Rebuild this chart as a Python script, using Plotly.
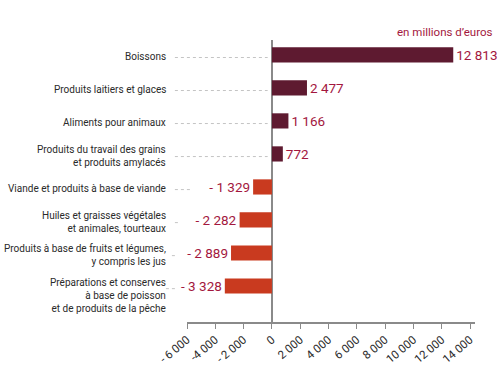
import plotly.graph_objects as go

categories = [
    "Boissons",
    "Produits laitiers et glaces",
    "Aliments pour animaux",
    "Produits du travail des grains<br>et produits amylacés",
    "Viande et produits à base de viande",
    "Huiles et graisses végétales<br>et animales, tourteaux",
    "Produits à base de fruits et légumes,<br>y compris les jus",
    "Préparations et conserves<br>à base de poisson<br>et de produits de la pêche",
]
values = [12813, 2477, 1166, 772, -1329, -2282, -2889, -3328]
tick_vals = [-6000, -4000, -2000, 0, 2000, 4000, 6000, 8000, 10000, 12000, 14000]
tick_text = ["- 6 000", "-4 000", "- 2 000", "0", "2 000", "4 000", "6 000",
             "8 000", "10 000", "12 000", "14 000"]
unit_label = "en millions d’euros"

POS_COLOR = "#5e1a30"
NEG_COLOR = "#c93a1f"
TXT_COLOR = "#a3173e"
FONT = "Roboto, Liberation Sans, sans-serif"
VAL_SIZE = 13.5


def fmt(v):
    s = f"{abs(v):,}".replace(",", " ")
    return ("- " + s) if v < 0 else s


idx = list(range(len(categories)))
xmin, xmax = -6000, 14350

fig = go.Figure(go.Bar(
    y=idx, x=values, orientation="h", width=0.46,
    marker=dict(color=[POS_COLOR if v > 0 else NEG_COLOR for v in values], line=dict(width=0)),
    text=[fmt(v) for v in values], textposition="outside",
    textfont=dict(color=TXT_COLOR, size=VAL_SIZE, family=FONT),
    constraintext="none", cliponaxis=False, hoverinfo="skip",
))

shapes = []
annotations = []
span = xmax - xmin
for i, (c, v) in enumerate(zip(categories, values)):
    nlines = c.count("<br>") + 1
    annotations.append(dict(
        x=-0.066, xref="paper", y=i, yref="y", text=c, showarrow=False,
        xanchor="right", yanchor="middle", align="right",
        yshift=-9 if nlines > 2 else -2,
        font=dict(size=10, color="#2a2a2a", family=FONT),
    ))
    if v > 0:
        end = (-300 - xmin) / span
    else:
        end = (v - xmin) / span - (0.56 * VAL_SIZE * len(fmt(v)) + 8) / 288
    shapes.append(dict(
        type="line", xref="paper", yref="y", x0=-0.042, x1=end, y0=i + 0.08, y1=i + 0.08,
        line=dict(color="#c4c4c4", width=1, dash="dot"),
    ))

annotations.append(dict(
    x=1.069, xref="paper", y=1.028, yref="paper", text=unit_label, showarrow=False,
    xanchor="right", yanchor="middle", font=dict(size=11.5, color=TXT_COLOR, family=FONT),
))

fig.update_layout(
    width=500, height=365,
    margin=dict(l=187, r=25, t=40, b=43),
    paper_bgcolor="white", plot_bgcolor="white",
    showlegend=False,
    shapes=shapes, annotations=annotations,
    font=dict(family=FONT),
    xaxis=dict(
        range=[xmin, xmax], tickvals=tick_vals, ticktext=tick_text,
        tickangle=-40, ticks="outside", ticklen=5, tickcolor="#8a8a8a",
        showline=True, linecolor="#8a8a8a", linewidth=1.5,
        showgrid=False, zeroline=True, zerolinecolor="#8a8a8a", zerolinewidth=1.5,
        tickfont=dict(size=11.5, color="#2a2a2a", family=FONT),
        automargin=False,
    ),
    yaxis=dict(
        range=[8.09, -0.45], showticklabels=False, showgrid=False,
        zeroline=False, showline=False, ticks="",
    ),
)

fig.write_html("out.html", config={"displayModeBar": False},
               post_script="document.body.style.margin='0';document.body.style.padding='0';")
